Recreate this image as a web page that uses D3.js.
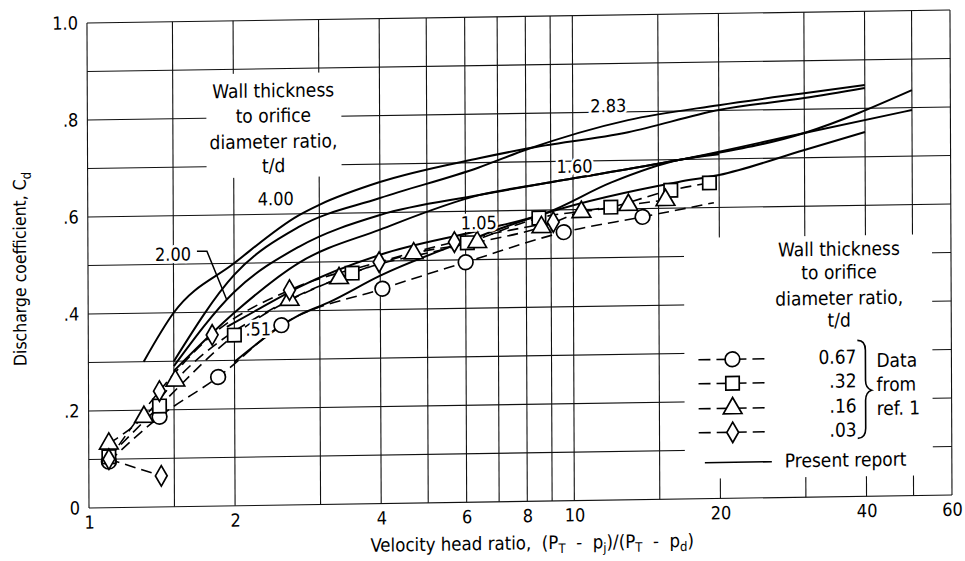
<!DOCTYPE html>
<html><head><meta charset="utf-8">
<script src="https://cdn.jsdelivr.net/npm/d3@7/dist/d3.min.js"></script>
<style>body{margin:0;background:#fff}svg{display:block}</style>
</head><body>
<svg id="chart" width="965" height="561"></svg>
<script>
// ---------- data ----------
const xTickValues = [1, 2, 4, 6, 8, 10, 20, 40, 60];
const xGridValues = [1, 1.5, 2, 3, 4, 5, 6, 7, 8, 9, 10, 15, 20, 30, 40, 50, 60];
const yTickValues = [0, 0.2, 0.4, 0.6, 0.8, 1.0];
const yGridValues = [0, 0.1, 0.2, 0.3, 0.4, 0.5, 0.6, 0.7, 0.8, 0.9, 1.0];

// Present report (solid curves), t/d
const curve400 = [[1.3,0.30],[1.5,0.40],[2,0.50],[2.72,0.597],[3,0.618],[4,0.663],[6.4,0.709],[8,0.727],[13,0.758],[20,0.801],[30,0.823],[40,0.842]];
const curve283 = [[1.5,0.30],[2,0.476],[2.72,0.573],[4,0.63],[6.4,0.690],[8,0.725],[13,0.783],[20,0.811],[30,0.833],[40,0.848]];
const curve200 = [[1.5,0.29],[2,0.441],[2.72,0.532],[4,0.595],[6.4,0.633],[8.8,0.656],[16.5,0.699],[30,0.751],[50,0.836]];
const curve160 = [[1.5,0.28],[2,0.398],[2.72,0.499],[4,0.565],[6.4,0.633],[8.8,0.656],[16.5,0.699],[30,0.751],[50,0.795]];
const curve051 = [[1.93,0.369],[2.2,0.40],[2.72,0.449],[4,0.513],[6.4,0.56],[8.8,0.594],[12,0.655],[16.5,0.699],[20,0.71]];
const curve105 = [[2,0.297],[2.72,0.391],[3.14,0.417],[4,0.47],[6.4,0.548],[8.8,0.594],[16.5,0.654],[20,0.667],[30,0.716],[40,0.751]];

// Data from ref. 1 (markers)
const circles   = [[1.1,0.095],[1.40,0.186],[1.85,0.266],[2.50,0.371],[4.04,0.443],[6.0,0.495],[9.56,0.554],[13.9,0.583]];
const squares   = [[1.1,0.105],[1.40,0.208],[2.0,0.352],[3.5,0.476],[6.05,0.535],[8.5,0.584],[11.96,0.604],[15.9,0.637],[19.1,0.651]];
const triangles = [[1.1,0.132],[1.30,0.186],[1.51,0.26],[2.6,0.423],[3.29,0.466],[4.69,0.515],[6.34,0.536],[8.6,0.565],[10.4,0.595],[13.0,0.608],[15.5,0.617]];
const diamonds  = [[1.1,0.10],[1.41,0.064],[1.40,0.239],[1.80,0.353],[2.6,0.443],[3.98,0.498],[5.69,0.537],[9.1,0.575]];

// dashed fairings
const circleLine   = [[1.1,0.095],[1.40,0.186],[1.85,0.266],[2.50,0.371],[4.04,0.443],[6.0,0.495],[9.56,0.554],[13.9,0.583],[19.5,0.61]];
const squareLine   = [[1.1,0.105],[1.40,0.208],[2.0,0.352],[3.5,0.476],[6.05,0.535],[8.5,0.584],[11.96,0.604],[15.9,0.637],[19.1,0.651]];
const triangleLine = [[1.1,0.132],[1.30,0.186],[1.51,0.26],[2.6,0.423],[3.29,0.466],[4.69,0.515],[6.34,0.536],[8.6,0.565],[10.4,0.595],[13.0,0.608],[15.5,0.617]];
const diamondLine  = [[1.1,0.10],[1.40,0.239],[1.80,0.353],[2.6,0.443],[3.98,0.498],[5.69,0.537],[9.1,0.575]];
const diamondLow   = [[1.1,0.10],[1.41,0.064]];

const legendLabels = ["0.67", ".32", ".16", ".03"];
const legendShapes = ["circle", "square", "triangle", "diamond"];

// ---------- layout ----------
const FONT = "'Liberation Sans Narrow','DejaVu Sans Condensed','Arial Narrow',sans-serif";
const svg = d3.select("#chart");
const root = svg.append("g")
  .attr("transform", "translate(89,508) skewY(-0.865) skewX(0.24) translate(-89,-508)");

const x = d3.scaleLog().domain([1, 60]).range([89, 952]);
const y = d3.scaleLinear().domain([0, 1]).range([508, 23]);

// grid
const grid = root.append("g").attr("stroke", "#111").attr("stroke-width", 1.1);
grid.selectAll("line.v").data(xGridValues).join("line")
  .attr("x1", d => x(d)).attr("x2", d => x(d)).attr("y1", y(0)).attr("y2", y(1));
grid.selectAll("line.h").data(yGridValues).join("line")
  .attr("y1", d => y(d)).attr("y2", d => y(d)).attr("x1", x(1)).attr("x2", x(60));

// white boxes for annotation blocks
root.append("rect").attr("x", 208).attr("y", 76).attr("width", 135).attr("height", 104).attr("fill", "#fff");
root.append("rect").attr("x", 685).attr("y", 247).attr("width", 248).attr("height", 241).attr("fill", "#fff");

// axes
const xAxis = d3.axisBottom(x).tickValues(xTickValues).tickSize(0).tickPadding(8).tickFormat(d3.format("d"));
const gx = root.append("g").attr("transform", `translate(0,${y(0)})`).call(xAxis);
gx.select(".domain").remove();
gx.selectAll("text").attr("font-family", FONT).attr("font-size", 18).attr("fill", "#000");

const yAxis = d3.axisLeft(y).tickValues(yTickValues).tickSize(0).tickPadding(9)
  .tickFormat(d => d === 0 ? "0" : d === 1 ? "1.0" : d3.format(".1f")(d).replace(/^0/, ""));
const gy = root.append("g").attr("transform", `translate(${x(1)},0)`).call(yAxis);
gy.select(".domain").remove();
gy.selectAll("text").attr("font-family", FONT).attr("font-size", 18).attr("fill", "#000");

// axis titles
const yt = root.append("text").attr("transform", "translate(27,268) rotate(-90)")
  .attr("text-anchor", "middle").attr("font-family", FONT).attr("font-size", 17.5);
yt.append("tspan").text("Discharge coefficient, C");
yt.append("tspan").attr("font-size", 13).attr("dy", 5).text("d");

const xt = root.append("text").attr("x", 532).attr("y", 556)
  .attr("text-anchor", "middle").attr("font-family", FONT).attr("font-size", 18.5)
  .style("white-space", "pre");
xt.append("tspan").text("Velocity head ratio,  (P");
xt.append("tspan").attr("font-size", 13).attr("dy", 4).text("T");
xt.append("tspan").attr("dy", -4).text("  -  p");
xt.append("tspan").attr("font-size", 13).attr("dy", 4).text("j");
xt.append("tspan").attr("dy", -4).text(")/(P");
xt.append("tspan").attr("font-size", 13).attr("dy", 4).text("T");
xt.append("tspan").attr("dy", -4).text("  -  p");
xt.append("tspan").attr("font-size", 13).attr("dy", 4).text("d");
xt.append("tspan").attr("dy", -4).text(")");

// solid curves
const line = d3.line().x(d => x(d[0])).y(d => y(d[1])).curve(d3.curveMonotoneX);
const solid = [curve400, curve283, curve200, curve160, curve105, curve051];
root.append("g").selectAll("path").data(solid).join("path")
  .attr("d", line).attr("fill", "none").attr("stroke", "#000").attr("stroke-width", 2);

// dashed fairings
const dashed = [circleLine, squareLine, triangleLine, diamondLine, diamondLow];
root.append("g").selectAll("path").data(dashed).join("path")
  .attr("d", line).attr("fill", "none").attr("stroke", "#000").attr("stroke-width", 1.6)
  .attr("stroke-dasharray", "11,6");

// markers
const shapeSym = {circle: d3.symbolCircle, square: d3.symbolSquare, triangle: d3.symbolTriangle, diamond: d3.symbolDiamond};
const shapeSize = {circle: 170, square: 180, triangle: 150, diamond: 120};
function drawMarkers(data, shape) {
  root.append("g").selectAll("path").data(data).join("path")
    .attr("transform", d => `translate(${x(d[0])},${y(d[1])})`)
    .attr("d", d3.symbol().type(shapeSym[shape]).size(shapeSize[shape]))
    .attr("fill", "#fff").attr("stroke", "#000").attr("stroke-width", 1.7);
}
drawMarkers(circles, "circle");
drawMarkers(squares, "square");
drawMarkers(triangles, "triangle");
drawMarkers(diamonds, "diamond");

// curve labels
function label(t, px, py, anchor) {
  root.append("text").attr("x", px).attr("y", py).attr("text-anchor", anchor || "middle")
    .attr("font-family", FONT).attr("font-size", 18)
    .attr("stroke", "#fff").attr("stroke-width", 5).attr("paint-order", "stroke")
    .text(t);
}
label("4.00", 277, 208);
label("2.00", 174, 262);
label(".51", 259, 338);
label("1.05", 480, 235);
label("1.60", 576, 180);
label("2.83", 610, 120);
// 2.00 leader
root.append("path").attr("d", `M198,253 H208 L${x(1.93)},${y(0.425)}`).attr("fill", "none").attr("stroke", "#000").attr("stroke-width", 1.5);

// left annotation
["Wall thickness", "to orifice", "diameter ratio,", "t/d"].forEach((t, i) => {
  root.append("text").attr("x", 275).attr("y", [100, 125, 151, 175][i]).attr("text-anchor", "middle")
    .attr("font-family", FONT).attr("font-size", 19).text(t);
});

// legend
["Wall thickness", "to orifice", "diameter ratio,", "t/d"].forEach((t, i) => {
  root.append("text").attr("x", 840).attr("y", [267, 290, 316, 338][i]).attr("text-anchor", "middle")
    .attr("font-family", FONT).attr("font-size", 19).text(t);
});
const legRowY = [369, 393, 418, 442];
legendShapes.forEach((s, i) => {
  const ly = legRowY[i];
  root.append("line").attr("x1", 699).attr("x2", 768).attr("y1", ly).attr("y2", ly)
    .attr("stroke", "#000").attr("stroke-width", 1.6).attr("stroke-dasharray", "12,6");
  root.append("path").attr("transform", `translate(733,${ly})`)
    .attr("d", d3.symbol().type(shapeSym[s]).size(shapeSize[s]))
    .attr("fill", "#fff").attr("stroke", "#000").attr("stroke-width", 1.7);
  root.append("text").attr("x", 857).attr("y", ly + 6).attr("text-anchor", "end")
    .attr("font-family", FONT).attr("font-size", 19).text(legendLabels[i]);
});
// brace
root.append("path").attr("d", "M858,352 Q866,352 866,362 L866,392 Q866,400 872,402 Q866,404 866,412 L866,440 Q866,450 858,450")
  .attr("fill", "none").attr("stroke", "#000").attr("stroke-width", 1.6);
["Data", "from", "ref. 1"].forEach((t, i) => {
  root.append("text").attr("x", 877).attr("y", [379, 403, 427][i])
    .attr("font-family", FONT).attr("font-size", 19).text(t);
});
root.append("line").attr("x1", 705).attr("x2", 772).attr("y1", 472).attr("y2", 472)
  .attr("stroke", "#000").attr("stroke-width", 1.6);
root.append("text").attr("x", 785).attr("y", 478).attr("font-family", FONT).attr("font-size", 19).text("Present report");
</script>
</body></html>
